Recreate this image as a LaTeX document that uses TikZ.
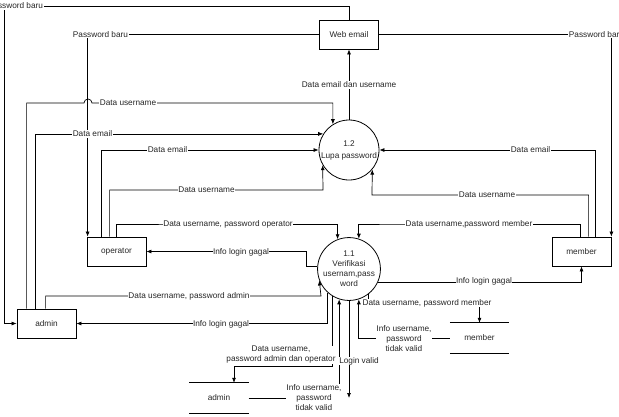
\documentclass[tikz,border=0pt]{standalone}
\usepackage{fontspec}
\setmainfont{Liberation Sans}
\usetikzlibrary{arrows.meta}

\begin{document}
\begin{tikzpicture}[x=1pt, y=-1pt,
    every node/.style={font=\fontsize{8.25}{10}\selectfont, text=black!85},
    box/.style={draw, line width=0.8pt, minimum width=59pt, minimum height=29pt, inner sep=0pt},
    proc/.style={draw, circle, line width=0.8pt, minimum size=60pt, inner sep=0pt, align=center},
    store/.style={minimum width=59pt, minimum height=30pt, inner sep=0pt},
    lbl/.style={fill=white, inner sep=0.5pt, align=center},
    flow/.style={line width=0.7pt, -{Latex[length=5pt,width=4pt]}}]
  \useasboundingbox (0,0) rectangle (619,416);

  \node[box] (web) at (349,34.5) {Web email};
  \node[proc] (c12) at (349,150) {1.2\\[2pt]Lupa password};
  \node[proc] (c11) at (349,269) {1.1\\Verifikasi\\usernam,pass\\word};
  \node[box] (opr) at (116.5,251.5) {operator};
  \node[box] (adm) at (46.5,323.5) {admin};
  \node[box] (mem) at (581.5,251.5) {member};
  \node[store] (sadm) at (219,398) {admin};
  \node[store] (smem) at (479.5,338) {member};
  \draw[line width=0.8pt] (sadm.north west) -- (sadm.north east) (sadm.south west) -- (sadm.south east);
  \draw[line width=0.8pt] (smem.north west) -- (smem.north east) (smem.south west) -- (smem.south east);

  % web email
  \draw[flow] (web.north) |- (4,6) |- (adm.west);
  \draw[flow] (web.west) -| ([xshift=1pt]opr.north west);
  \draw[flow] (web.east) -| (mem.north east);
  \draw[flow] (c12) -- (web);

  % lupa password
  \draw[flow] ([xshift=10pt]adm.north west) |- (84,103) arc[start angle=180, end angle=360, radius=4] -| (c12.122);
  \draw[flow] ([xshift=19pt]adm.north west) |- (c12.148);
  \draw[flow] ([xshift=15pt]opr.north west) |- (c12.west);
  \draw[flow] ([xshift=23pt]opr.north west) |- (323,190) -- (c12.210);
  \draw[flow] ([xshift=44pt]mem.north west) |- (c12.east);
  \draw[flow] ([xshift=37pt]mem.north west) |- (372,195) -- (c12.320);

  % verifikasi
  \draw[flow] ([xshift=30pt]opr.north west) |- (200,224) -| (c11.111);
  \draw[flow] ([xshift=29pt]mem.north west) |- (400,224) -| (c11.72);
  \draw[flow] (c11.176) -| (306,251.5) -- (opr.east);
  \draw[flow] ([xshift=29pt]adm.north west) |- (321,296) -- (c11.201);
  \draw[flow] (c11.228) |- (adm.east);
  \draw[flow] (c11.336) -| (mem.south);
  \draw[flow] (c11.238) |- (234,366) -- ([xshift=15pt]sadm.north);
  \draw[flow] (sadm.east) -| (c11.252);
  \coordinate (lv) at (349,398);
  \draw[flow] (c11.south) -- (lv);
  \draw[flow] (smem.west) -| (c11.288);
  \draw[flow] (c11.307) |- (400,303) -| (smem.north);

  % labels
  \node[lbl] (l1) at (15.5,6) {Password baru};
  \node[lbl] (l2) at (100.5,34.5) {Password baru};
  \node[lbl] (l3) at (596.5,34.5) {Password baru};
  \node[lbl] (l4) at (349,85) {Data email dan username};
  \node[lbl] (l5) at (128,103) {Data username};
  \node[lbl] (l6) at (92.5,134) {Data email};
  \node[lbl] (l7) at (167.5,150) {Data email};
  \node[lbl] (l8) at (206.5,190) {Data username};
  \node[lbl] (l9) at (228,224) {Data username, password operator};
  \node[lbl] (l10) at (241,252) {Info login gagal};
  \node[lbl] (l11) at (189,296) {Data username, password admin};
  \node[lbl] (l12) at (221,324) {Info login gagal};
  \node[lbl] (l13) at (281,355) {Data username,\\password admin dan operator};
  \node[lbl] (l14) at (314,398) {Info username,\\password\\tidak valid};
  \node[lbl] (l15) at (359,361) {Login valid};
  \node[lbl] (l16) at (404,339) {Info username,\\password\\tidak valid};
  \node[lbl] (l17) at (427,303) {Data username, password member};
  \node[lbl] (l18) at (484,281) {Info login gagal};
  \node[lbl] (l19) at (530.5,150) {Data email};
  \node[lbl] (l20) at (487,195) {Data username};
  \node[lbl] (l21) at (469,224) {Data username,password member};
\end{tikzpicture}
\end{document}
